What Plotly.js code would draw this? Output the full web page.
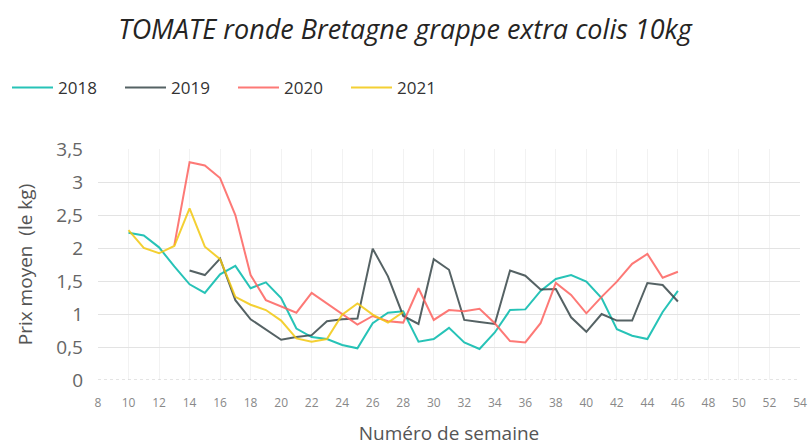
<!DOCTYPE html>
<html>
<head>
<meta charset="utf-8">
<script src="https://cdn.plot.ly/plotly-3.0.1.min.js"></script>
<style>html,body{margin:0;padding:0;background:#fff;}#chart{width:810px;height:446px;}</style>
</head>
<body>
<div id="chart"></div>
<script>
const seriesNames = ["2018", "2019", "2020", "2021"];
const seriesColors = ["#01B8AA", "#374649", "#FD625E", "#F2C80F"];

const weeks2018 = [10,11,12,13,14,15,16,17,18,19,20,21,22,23,24,25,26,27,28,29,30,31,32,33,34,35,36,37,38,39,40,41,42,43,44,45,46];
const prix2018 = [2.23,2.19,2.01,1.72,1.45,1.32,1.60,1.73,1.39,1.48,1.24,0.78,0.65,0.62,0.53,0.48,0.86,1.02,1.04,0.58,0.62,0.79,0.57,0.47,0.72,1.06,1.07,1.35,1.53,1.59,1.49,1.24,0.77,0.67,0.62,1.03,1.35];

const weeks2019 = [14,15,16,17,18,19,20,21,22,23,24,25,26,27,28,29,30,31,32,33,34,35,36,37,38,39,40,41,42,43,44,45,46];
const prix2019 = [1.66,1.59,1.84,1.21,0.92,0.77,0.61,0.65,0.68,0.89,0.92,0.93,1.99,1.57,0.97,0.85,1.83,1.67,0.91,0.88,0.85,1.66,1.58,1.37,1.38,0.95,0.73,1.00,0.90,0.90,1.47,1.44,1.19];

const weeks2020 = [13,14,15,16,17,18,19,20,21,22,23,24,25,26,27,28,29,30,31,32,33,34,35,36,37,38,39,40,41,42,43,44,45,46];
const prix2020 = [2.04,3.30,3.25,3.06,2.50,1.59,1.21,1.11,1.02,1.32,1.16,1.00,0.84,0.97,0.89,0.87,1.39,0.91,1.06,1.04,1.08,0.86,0.59,0.57,0.86,1.47,1.29,1.01,1.26,1.49,1.76,1.91,1.55,1.64];

const weeks2021 = [10,11,12,13,14,15,16,17,18,19,20,21,22,23,24,25,26,27,28];
const prix2021 = [2.27,2.00,1.92,2.03,2.60,2.02,1.83,1.26,1.14,1.06,0.90,0.63,0.58,0.62,0.99,1.16,0.99,0.87,1.03];

const allWeeks = [weeks2018, weeks2019, weeks2020, weeks2021];
const allPrix = [prix2018, prix2019, prix2020, prix2021];

const traces = seriesNames.map((n, i) => ({
  type: "scatter", mode: "lines", name: n,
  x: allWeeks[i], y: allPrix[i],
  opacity: 0.85,
  line: {color: seriesColors[i], width: 2}
}));

const FONT = "'Open Sans', 'Noto Sans', sans-serif";
const layout = {
  width: 810, height: 446,
  margin: {l: 98, r: 10, t: 149, b: 66},
  paper_bgcolor: "#fff", plot_bgcolor: "#fff",
  separators: ", ",
  font: {family: FONT, color: "#666"},
  title: {
    text: "TOMATE ronde Bretagne grappe extra colis 10kg",
    font: {family: FONT, size: 27, color: "#252423", style: "italic"},
    xref: "container", x: 0.5, xanchor: "center",
    yref: "container", y: 1 - 30/446, yanchor: "middle"
  },
  showlegend: true,
  legend: {
    orientation: "h", xref: "container", yref: "container",
    x: 7/810, xanchor: "left", y: 1 - 88/446, yanchor: "middle",
    font: {family: FONT, size: 17, color: "#333"},
    itemwidth: 41, entrywidth: 57, entrywidthmode: "pixels",
    bgcolor: "rgba(0,0,0,0)"
  },
  xaxis: {
    range: [8, 54], tick0: 8, dtick: 2, tickmode: "linear",
    showgrid: true, gridcolor: "#f2f2f2", gridwidth: 1,
    zeroline: false, showline: false, ticks: "",
    tickfont: {family: FONT, size: 12, color: "#888"},
    ticklabelstandoff: 14,
    title: {text: "Numéro de semaine", font: {family: FONT, size: 19, color: "#555"}, standoff: 16},
    automargin: false
  },
  yaxis: {
    range: [0, 3.5], dtick: 0.5, tick0: 0, tickmode: "linear",
    showgrid: true, gridcolor: "#e3e3e3", gridwidth: 1,
    zeroline: false, showline: false, ticks: "",
    tickfont: {family: FONT, size: 19, color: "#666"},
    ticklabelstandoff: 14,
    title: {text: "Prix moyen  (le kg)", font: {family: FONT, size: 19, color: "#555"}, standoff: 18},
    automargin: false
  },
  shapes: [{
    type: "line", xref: "paper", yref: "y", x0: 0, x1: 1, y0: 0, y1: 0,
    line: {color: "#c8c8c8", width: 1, dash: "dot"}, layer: "above"
  }]
};

Plotly.newPlot("chart", traces, layout, {staticPlot: true, displayModeBar: false});
</script>
</body>
</html>
